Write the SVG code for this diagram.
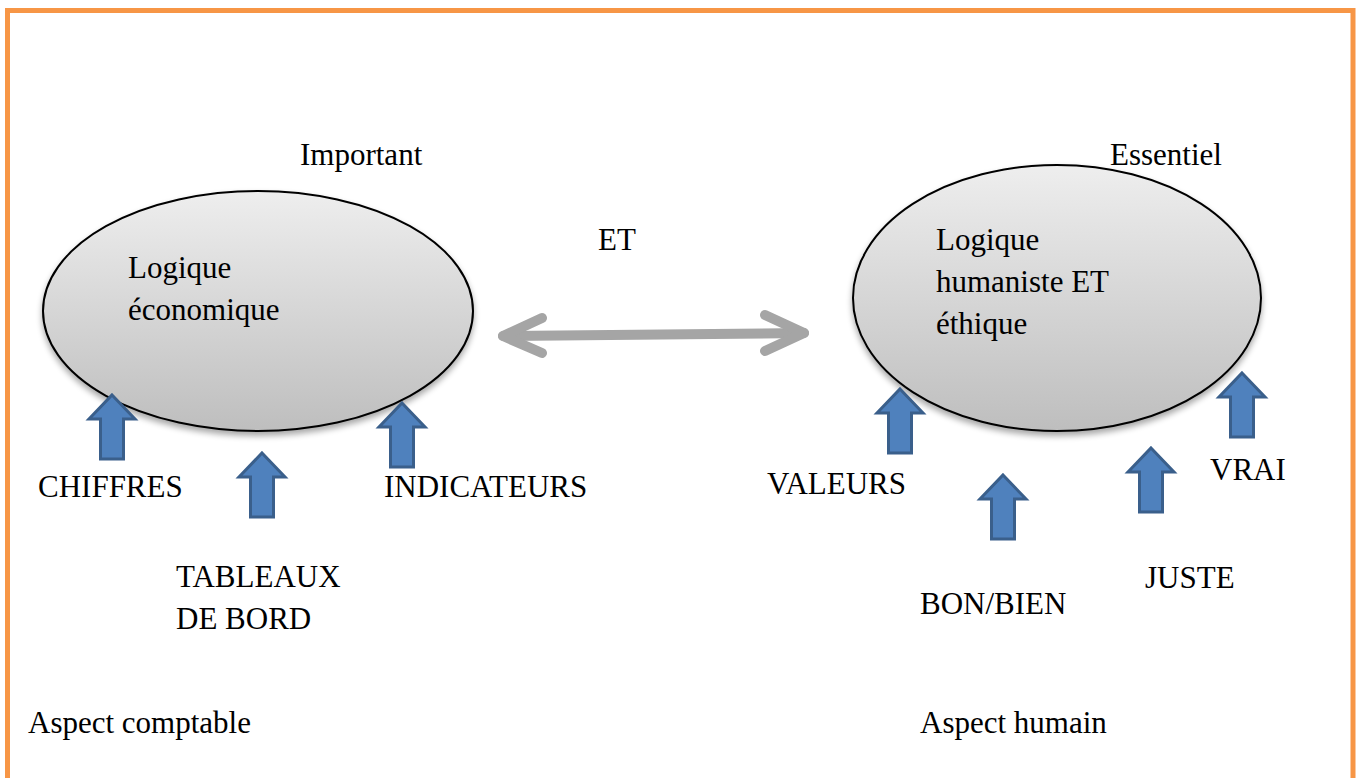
<svg xmlns="http://www.w3.org/2000/svg" xmlns:xlink="http://www.w3.org/1999/xlink" width="1360" height="778" viewBox="0 0 1360 778">
  <style>
    text { font-family: "Liberation Serif", "Times New Roman", Times, Tinos, "Nimbus Roman", "Noto Serif", "DejaVu Serif", FreeSerif, serif; font-size: 31px; fill: #000; }
    .oval { fill: url(#ovalFill); stroke: #000; stroke-width: 2; filter: url(#soft); }
    .up { fill: #4F81BD; stroke: #3A5F8B; stroke-width: 3; stroke-linejoin: miter; }
    .link { fill: none; stroke: #A5A5A5; stroke-width: 10; stroke-linecap: round; stroke-linejoin: round; }
  </style>
  <defs>
    <linearGradient id="ovalFill" x1="0" y1="0" x2="0" y2="1">
      <stop offset="0" stop-color="#EEEEEE"/>
      <stop offset="1" stop-color="#BEBEBE"/>
    </linearGradient>
    <filter id="soft" x="-10%" y="-10%" width="120%" height="130%">
      <feGaussianBlur in="SourceAlpha" stdDeviation="3"/>
      <feOffset dx="0" dy="4" result="b"/>
      <feComponentTransfer><feFuncA type="linear" slope="0.35"/></feComponentTransfer>
      <feMerge><feMergeNode/><feMergeNode in="SourceGraphic"/></feMerge>
    </filter>
    <!-- upward block arrow, tip at origin -->
    <path id="upArrow" class="up" d="M0,0 L23,24 L11.5,24 L11.5,64 L-11.5,64 L-11.5,24 L-23,24 Z"/>
  </defs>

  <rect x="0" y="0" width="1360" height="778" fill="#fff"/>
  <!-- frame -->
  <path d="M7.5,790 L7.5,10.5 L1353,10.5 L1353,790" fill="none" stroke="#F79646" stroke-width="5"/>

  <g id="eco">
    <ellipse class="oval" cx="258" cy="311" rx="215" ry="120"/>
    <text x="128" y="278">Logique</text>
    <text x="128" y="320">économique</text>
    <text x="300" y="165">Important</text>
  </g>

  <g id="human">
    <ellipse class="oval" cx="1057" cy="298" rx="204" ry="133"/>
    <text x="936" y="250">Logique</text>
    <text x="936" y="292">humaniste ET</text>
    <text x="936" y="334">éthique</text>
    <text x="1110" y="165">Essentiel</text>
  </g>

  <g id="connectors">
    <path class="link" d="M503,336 L804,333"/>
    <path class="link" d="M542,318 L503,336 L542,353"/>
    <path class="link" d="M765,315 L804,333 L765,351"/>
    <text x="598" y="250">ET</text>
  </g>

  <g id="chiffres">
    <use xlink:href="#upArrow" x="112" y="395"/>
    <text x="38" y="497">CHIFFRES</text>
  </g>
  <g id="tableaux">
    <use xlink:href="#upArrow" x="262" y="453"/>
    <text x="176" y="587">TABLEAUX</text>
    <text x="176" y="629">DE BORD</text>
  </g>
  <g id="indicateurs">
    <use xlink:href="#upArrow" x="402" y="403"/>
    <text x="384" y="497">INDICATEURS</text>
  </g>

  <g id="valeurs">
    <use xlink:href="#upArrow" x="900" y="389"/>
    <text x="767" y="494">VALEURS</text>
  </g>
  <g id="bonbien">
    <use xlink:href="#upArrow" x="1003" y="475"/>
    <text x="920" y="614">BON/BIEN</text>
  </g>
  <g id="juste">
    <use xlink:href="#upArrow" x="1151" y="448"/>
    <text x="1145" y="588">JUSTE</text>
  </g>
  <g id="vrai">
    <use xlink:href="#upArrow" x="1242" y="373"/>
    <text x="1210" y="480">VRAI</text>
  </g>

  <g id="aspects">
    <text x="28" y="733">Aspect comptable</text>
    <text x="920" y="733">Aspect humain</text>
  </g>
</svg>
